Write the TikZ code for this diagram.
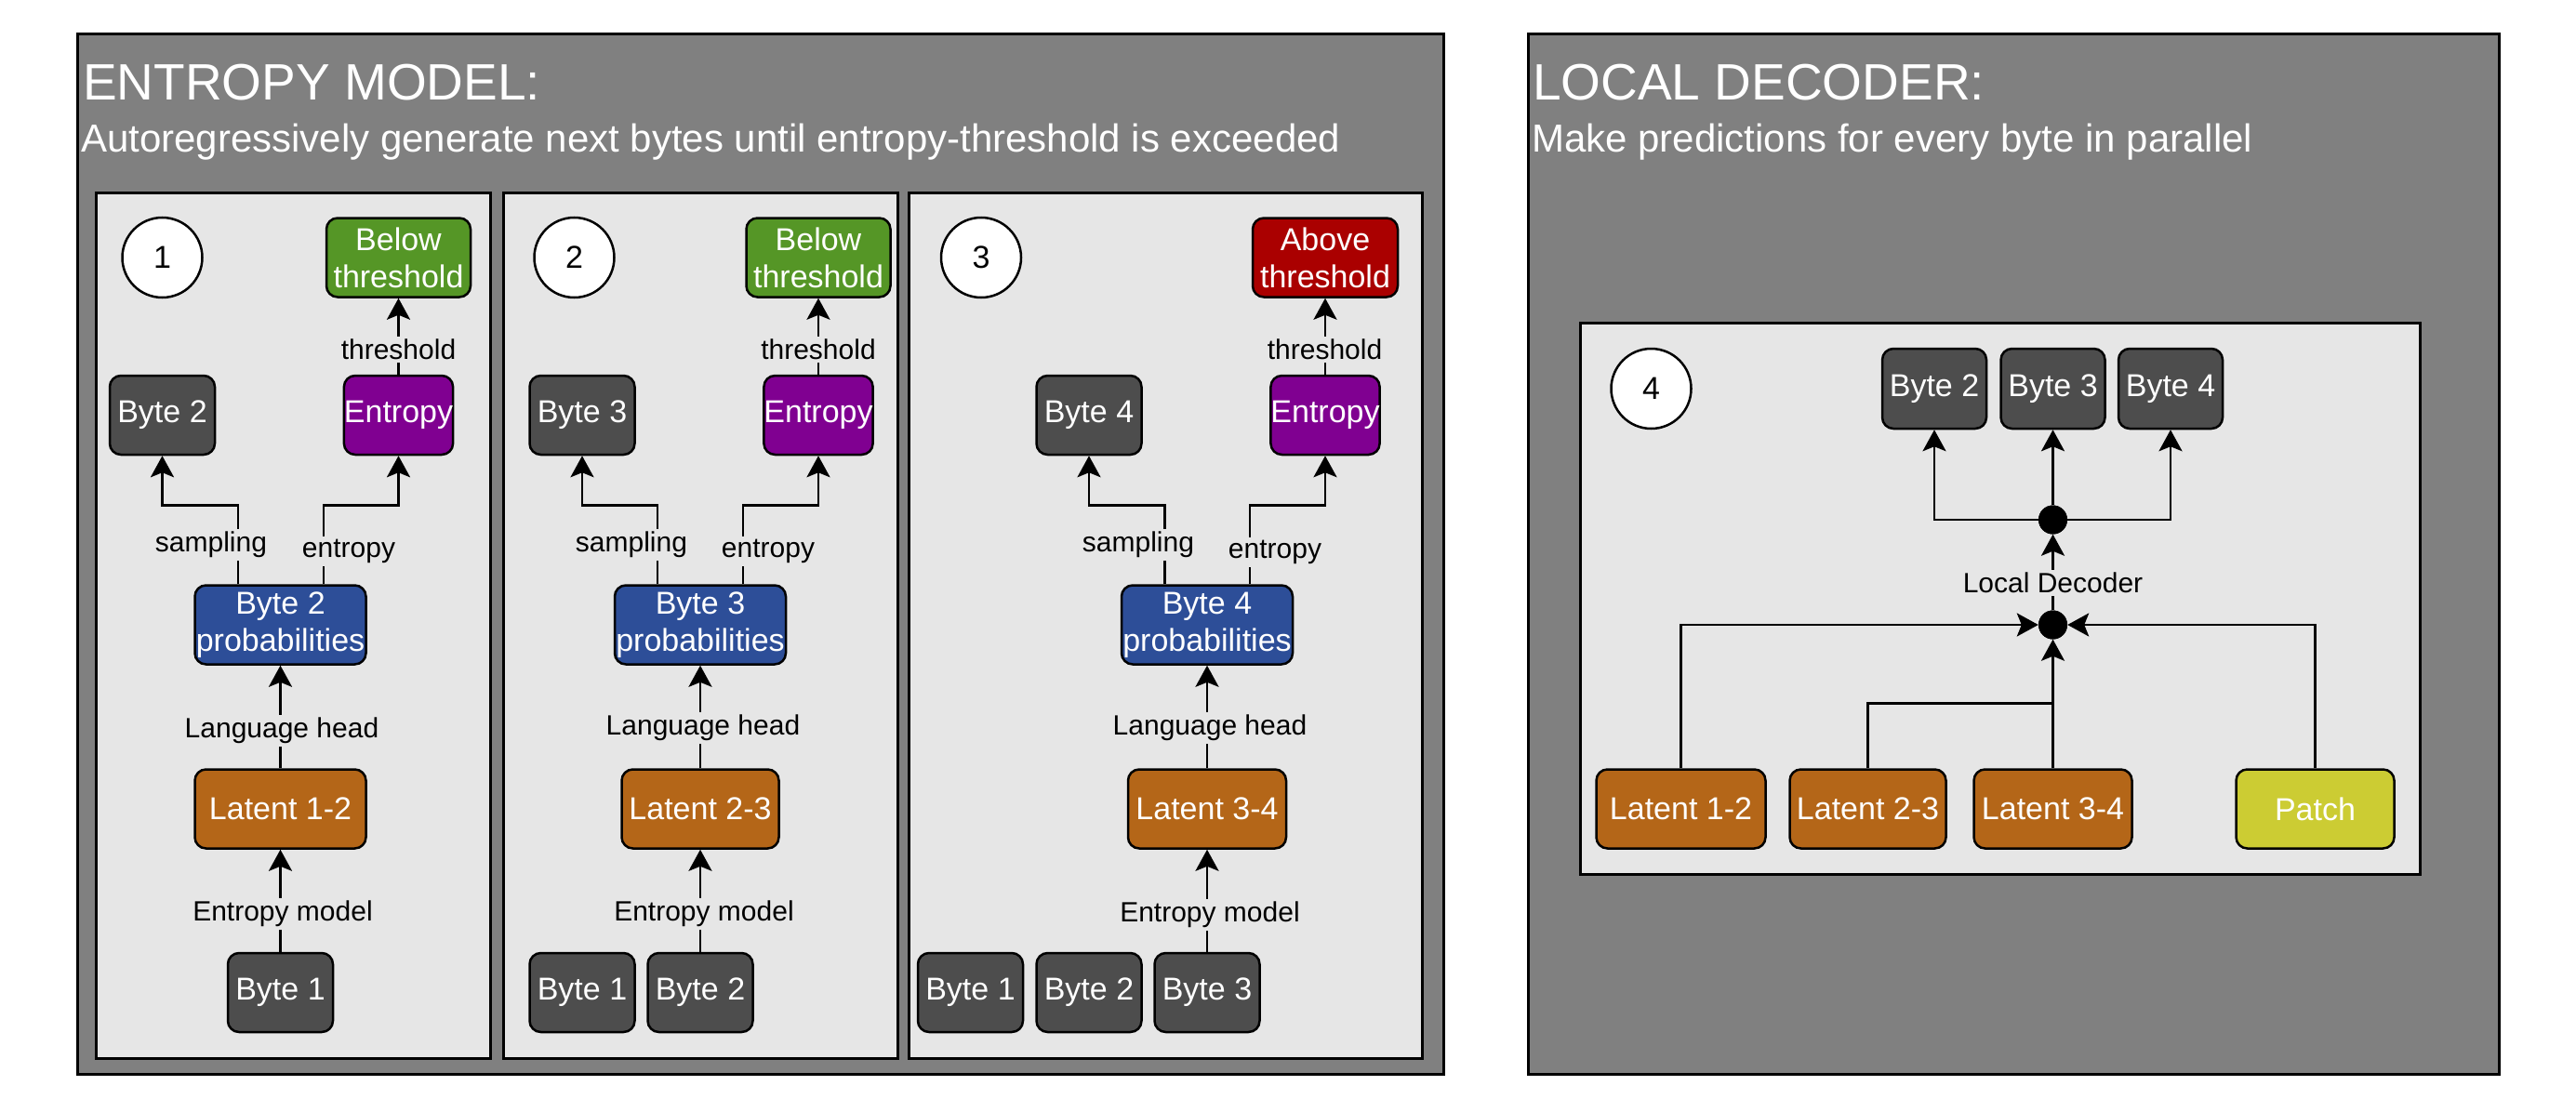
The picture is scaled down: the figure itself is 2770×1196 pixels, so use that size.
\documentclass[tikz,border=0pt]{standalone}
\usepackage{fontspec}
\setmainfont{Liberation Sans}
\usetikzlibrary{arrows.meta}
\definecolor{couter}{RGB}{128,128,128}
\definecolor{cpanel}{RGB}{230,230,230}
\definecolor{cdark}{RGB}{77,77,77}
\definecolor{cgreen}{RGB}{85,150,38}
\definecolor{cred}{RGB}{170,0,0}
\definecolor{cpurple}{RGB}{128,0,145}
\definecolor{cblue}{RGB}{45,78,152}
\definecolor{corange}{RGB}{180,102,24}
\definecolor{cyellow}{RGB}{204,204,51}
\begin{document}
\begin{tikzpicture}[x=1pt,y=-1pt,
  outerbox/.style={draw=black, fill=couter, line width=3pt},
  panelbox/.style={draw=black, fill=cpanel, line width=3pt},
  titletxt/.style={text=white, inner sep=0pt, anchor=base west, font=\fontsize{55}{60}\selectfont},
  subtxt/.style={text=white, inner sep=0pt, anchor=base west, font=\fontsize{42}{48}\selectfont},
  box/.style={draw=black, line width=2.5pt, rounded corners=12pt, minimum height=85pt, inner sep=0pt, text=white, align=center, font=\fontsize{34}{40}\selectfont},
  bytebox/.style={box, fill=cdark, minimum width=113pt},
  entbox/.style={box, fill=cpurple, minimum width=113pt},
  probbox/.style={box, fill=cblue, minimum width=184pt},
  latbox/.style={box, fill=corange},
  greenbox/.style={box, fill=cgreen, minimum width=155pt},
  redbox/.style={box, fill=cred, minimum width=156pt},
  patchbox/.style={box, fill=cyellow, minimum width=170pt},
  numcirc/.style={circle, draw=black, fill=white, line width=2.5pt, minimum size=86pt, inner sep=0pt, font=\fontsize{34}{40}\selectfont},
  dotnode/.style={circle, fill=black, minimum size=31pt, inner sep=0pt},
  lbl/.style={fill=cpanel, inner sep=3pt, text=black, font=\fontsize{30}{36}\selectfont},
  conn/.style={line width=2.7pt},
  arr/.style={line width=2.7pt, -{Stealth[length=23pt,width=25pt,inset=5pt]}}
]
\useasboundingbox (0,0) rectangle (2770,1196);
\fill[white] (0,0) rectangle (2770,1196);
% frames
\draw[outerbox] (83,37) rectangle (1552,1155);
\draw[outerbox] (1643,37) rectangle (2687,1155);
\draw[panelbox] (103,207) rectangle (527,1138);
\draw[panelbox] (541,207) rectangle (965,1138);
\draw[panelbox] (977,207) rectangle (1529,1138);
\draw[panelbox] (1699,347) rectangle (2602,940);
% titles
\node[titletxt] (t1) at (89,108) {ENTROPY MODEL:};
\node[subtxt] (s1) at (87,163) {Autoregressively generate next bytes until entropy-threshold is exceeded};
\node[titletxt] (t2) at (1648,108) {LOCAL DECODER:};
\node[subtxt] (s2) at (1647,163) {Make predictions for every byte in parallel};

% ---------- panel 1
\node[numcirc] (n1) at (174.5,277) {1};
\node[greenbox] (g1) at (428.5,277) {Below\\threshold};
\node[bytebox] (o1) at (174.5,446.5) {Byte 2};
\node[entbox] (e1) at (428.5,446.5) {Entropy};
\node[probbox] (p1) at (301.5,672) {Byte 2\\probabilities};
\node[latbox, minimum width=184pt] (l1) at (301.5,870) {Latent 1-2};
\node[bytebox] (i1) at (301.5,1067.5) {Byte 1};
\draw[arr] (i1.north) -- (l1.south);
\draw[arr] (l1.north) -- (p1.south);
\draw[arr] ([xshift=-45.5pt]p1.north) -- ++(0,-84.5) -| (o1.south);
\draw[arr] ([xshift=46.5pt]p1.north) -- ++(0,-84.5) -| (e1.south);
\draw[arr] (e1.north) -- (g1.south);
\node[lbl] (sa1) at (227,586) {sampling};
\node[lbl] (en1) at (375,593) {entropy};
\node[lbl] (th1) at (428.5,376) {threshold};
\node[lbl] (lh1) at (303,786) {Language head};
\node[lbl] (em1) at (304,983) {Entropy model};

% ---------- panel 2
\node[numcirc] (n2) at (617.5,277) {2};
\node[greenbox] (g2) at (880,277) {Below\\threshold};
\node[bytebox] (o2) at (626,446.5) {Byte 3};
\node[entbox] (e2) at (880,446.5) {Entropy};
\node[probbox] (p2) at (753,672) {Byte 3\\probabilities};
\node[latbox, minimum width=169pt] (l2) at (753,870) {Latent 2-3};
\node[bytebox] (i2a) at (626,1067.5) {Byte 1};
\node[bytebox] (i2b) at (753,1067.5) {Byte 2};
\draw[arr] (i2b.north) -- (l2.south);
\draw[arr] (l2.north) -- (p2.south);
\draw[arr] ([xshift=-46pt]p2.north) -- ++(0,-84.5) -| (o2.south);
\draw[arr] ([xshift=46pt]p2.north) -- ++(0,-84.5) -| (e2.south);
\draw[arr] (e2.north) -- (g2.south);
\node[lbl] (sa2) at (679,586) {sampling};
\node[lbl] (en2) at (826,593) {entropy};
\node[lbl] (th2) at (880,376) {threshold};
\node[lbl] (lh2) at (756,783) {Language head};
\node[lbl] (em2) at (757,983) {Entropy model};

% ---------- panel 3
\node[numcirc] (n3) at (1055,277) {3};
\node[redbox] (g3) at (1425,277) {Above\\threshold};
\node[bytebox] (o3) at (1171,446.5) {Byte 4};
\node[entbox] (e3) at (1425,446.5) {Entropy};
\node[probbox] (p3) at (1298,672) {Byte 4\\probabilities};
\node[latbox, minimum width=170pt] (l3) at (1298,870) {Latent 3-4};
\node[bytebox] (i3a) at (1043.5,1067.5) {Byte 1};
\node[bytebox] (i3b) at (1171,1067.5) {Byte 2};
\node[bytebox] (i3c) at (1298,1067.5) {Byte 3};
\draw[arr] (i3c.north) -- (l3.south);
\draw[arr] (l3.north) -- (p3.south);
\draw[arr] ([xshift=-45.5pt]p3.north) -- ++(0,-84.5) -| (o3.south);
\draw[arr] ([xshift=46pt]p3.north) -- ++(0,-84.5) -| (e3.south);
\draw[arr] (e3.north) -- (g3.south);
\node[lbl] (sa3) at (1224,586) {sampling};
\node[lbl] (en3) at (1371,594) {entropy};
\node[lbl] (th3) at (1424.5,376) {threshold};
\node[lbl] (lh3) at (1301,783) {Language head};
\node[lbl] (em3) at (1301,984) {Entropy model};

% ---------- panel 4
\node[numcirc] (n4) at (1775.5,418) {4};
\node[bytebox, minimum width=112pt, minimum height=86pt] (q2) at (2080,418) {Byte 2};
\node[bytebox, minimum width=112pt, minimum height=86pt] (q3) at (2207.5,418) {Byte 3};
\node[bytebox, minimum width=112pt, minimum height=86pt] (q4) at (2334,418) {Byte 4};
\node[dotnode] (d1) at (2207.5,559) {};
\node[dotnode] (d2) at (2207.5,672) {};
\node[latbox, minimum width=182pt] (m1) at (1807.5,870) {Latent 1-2};
\node[latbox, minimum width=168pt] (m2) at (2008.5,870) {Latent 2-3};
\node[latbox, minimum width=170pt] (m3) at (2207.5,870) {Latent 3-4};
\node[patchbox] (pt) at (2489.5,870) {Patch};
\draw[arr] (d1.center) -| (q2.south);
\draw[arr] (d1.north) -- (q3.south);
\draw[arr] (d1.center) -| (q4.south);
\draw[conn] (m2.north) -- ++(0,-70) -| (m3.north);
\draw[arr] (m3.north) -- (d2.south);
\draw[arr] (m1.north) |- (d2.west);
\draw[arr] (pt.north) |- (d2.east);
\draw[arr] (d2.north) -- (d1.south);
\node[dotnode] at (d1) {};
\node[dotnode] at (d2) {};
\node[lbl] (ld) at (2207.5,627) {Local Decoder};
\end{tikzpicture}
\end{document}
